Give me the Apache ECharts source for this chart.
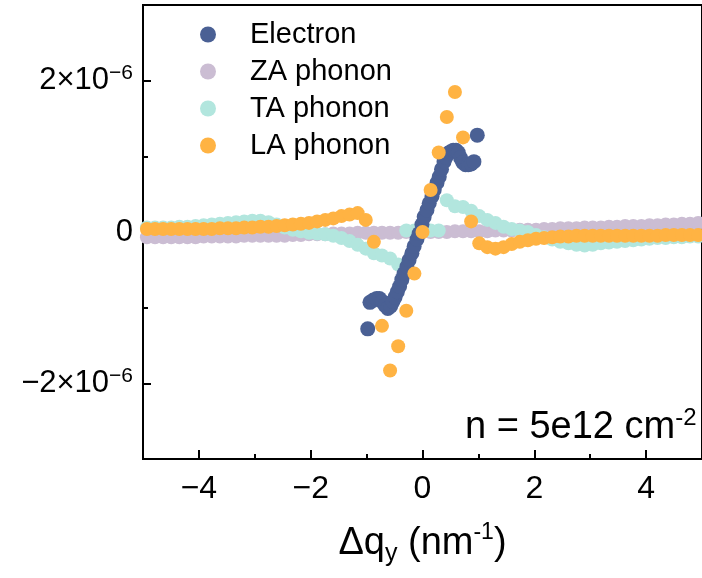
<!DOCTYPE html>
<html>
<head>
<meta charset="utf-8">
<script src="https://cdn.jsdelivr.net/npm/echarts@6/dist/echarts.min.js"></script>
<style>html,body{margin:0;padding:0;background:#fff}#c{width:702px;height:578px}</style>
</head>
<body>
<div id="c"></div>
<script>
// Phonon q grid (nm^-1)
const phononQ = [-4.93,-4.785,-4.64,-4.495,-4.35,-4.205,-4.06,-3.915,-3.77,-3.625,-3.48,-3.335,-3.19,-3.045,-2.9,-2.755,-2.61,-2.465,-2.32,-2.175,-2.03,-1.885,-1.74,-1.595,-1.45,-1.305,-1.16,-1.015,-0.87,-0.725,-0.58,-0.435,-0.29,-0.145,0,0.145,0.29,0.435,0.58,0.725,0.87,1.015,1.16,1.305,1.45,1.595,1.74,1.885,2.03,2.175,2.32,2.465,2.61,2.755,2.9,3.045,3.19,3.335,3.48,3.625,3.77,3.915,4.06,4.205,4.35,4.495,4.64,4.785,4.93];
// values in units of 1e-6
const zaValues = [-0.07,-0.07,-0.07,-0.07,-0.07,-0.07,-0.07,-0.06,-0.06,
  -0.06,-0.06,-0.06,-0.05,-0.05,-0.05,-0.05,-0.05,-0.05,
  -0.04,-0.04,-0.03,-0.03,-0.03,-0.02,-0.02,-0.02,-0.01,
  -0.01,-0.01,-0.01,-0.01,-0.01,0,0,
  0,
  0,0,0,0.01,0.01,0.01,0.01,
  0.01,0.02,0.02,0.02,0.03,0.03,0.03,0.04,0.04,
  0.05,0.05,0.05,0.06,0.06,0.06,0.07,0.07,0.08,
  0.08,0.08,0.09,0.09,0.10,0.10,0.11,0.11,0.12];
const taValues = [0.06,0.06,0.06,0.06,0.07,0.07,0.08,0.09,0.10,
  0.11,0.12,0.13,0.14,0.15,0.15,0.13,0.10,0.06,
  0.03,0.01,-0.01,-0.02,-0.03,-0.05,-0.08,-0.12,-0.17,
  -0.22,-0.28,-0.31,-0.35,-0.43,0.02,0.02,
  0.02,
  0.02,0.02,0.42,0.34,0.33,0.28,0.21,
  0.16,0.12,0.07,0.04,0.02,0.0,-0.04,-0.07,-0.10,
  -0.13,-0.15,-0.17,-0.18,-0.17,-0.15,-0.14,-0.13,-0.12,
  -0.11,-0.10,-0.09,-0.08,-0.08,-0.07,-0.07,-0.06,-0.06];
const laValues = [0.04,0.04,0.04,0.04,0.04,0.04,0.04,0.04,0.04,
  0.05,0.05,0.05,0.06,0.06,0.07,0.07,0.08,0.09,
  0.10,0.11,0.12,0.14,0.16,0.18,0.21,0.23,0.25,
  0.16,-0.13,-1.24,-1.83,-1.51,-1.04,-0.55,
  0.0,
  0.555,1.05,1.52,1.85,1.25,0.14,-0.15,
  -0.20,-0.22,-0.20,-0.16,-0.13,-0.11,-0.09,-0.08,-0.07,
  -0.06,-0.06,-0.05,-0.05,-0.05,-0.05,-0.05,-0.05,-0.05,
  -0.05,-0.05,-0.05,-0.05,-0.04,-0.04,-0.04,-0.04,-0.04];
// Electron points
const electronQ = [-0.98,-0.94,-0.88,-0.82,-0.77,-0.72,-0.67,-0.62,-0.57,-0.53,-0.49,-0.45,-0.41,-0.37,-0.33,-0.28,-0.24,-0.19,-0.15,-0.10,-0.06,-0.01,0.03,0.08,0.12,0.17,0.21,0.26,0.30,0.34,0.385,0.42,0.46,0.50,0.55,0.60,0.64,0.68,0.72,0.77,0.82,0.87,0.92,0.98];
const electronValues = [-1.28,-0.93,-0.90,-0.88,-0.88,-0.92,-0.97,-1.01,-0.98,-0.92,-0.86,-0.79,-0.72,-0.63,-0.55,-0.46,-0.37,-0.28,-0.19,-0.10,-0.02,0.10,0.20,0.29,0.38,0.47,0.56,0.65,0.73,0.83,0.93,0.99,1.04,1.06,1.08,1.08,1.05,0.98,0.92,0.89,0.89,0.90,0.93,1.28];

const xMajorTicks = [-4,-2,0,2,4];
const xMinorTicks = [-3,-1,1,3];
const yMajorTicks = [-2e-6,0,2e-6];
const yMinorTicks = [-1e-6,1e-6];
const seriesNames = ['Electron','ZA phonon','TA phonon','LA phonon'];
const colors = {'Electron':'#4A6094','ZA phonon':'#CBBDD3','TA phonon':'#B2E6DE','LA phonon':'#FFB343'};

const FONT = 'Liberation Sans';
const pair = (qs, vs) => qs.map((q,i)=>[q, vs[i]*1e-6]);

const chart = echarts.init(document.getElementById('c'), null, {renderer:'canvas'});
const axisLine = {show:true, onZero:false, lineStyle:{color:'#000', width:2}};
chart.setOption({
  animation:false,
  backgroundColor:'#fff',
  grid:{left:143, top:5, width:563, bottom:119, show:true, borderColor:'#000', borderWidth:2, backgroundColor:'transparent'},
  legend:{
    data:seriesNames, orient:'vertical', left:200, top:20, padding:0, itemGap:8,
    icon:'circle', itemWidth:16, itemHeight:16, selectedMode:false,
    textStyle:{fontFamily:FONT, fontSize:29, lineHeight:29, color:'#000', padding:[0,0,0,29]}
  },
  xAxis:[{
    type:'value', min:-5, max:5, position:'bottom',
    axisLine:axisLine,
    axisTick:{show:true, inside:true, length:9, customValues:xMajorTicks, lineStyle:{color:'#000', width:2}},
    axisLabel:{customValues:xMajorTicks, margin:14, fontFamily:FONT, fontSize:32, color:'#000',
      formatter:v=> v<0 ? '\u2212'+Math.abs(v) : String(v)},
    splitLine:{show:false},
    name:'{a|\u0394q}{s|y}{a| (nm}{p|-1}{a|)}', nameLocation:'middle', nameGap:62,
    nameTextStyle:{rich:{
      a:{fontFamily:FONT, fontSize:38, lineHeight:46, color:'#000'},
      s:{fontFamily:FONT, fontSize:25, lineHeight:25, verticalAlign:'bottom', color:'#000'},
      p:{fontFamily:FONT, fontSize:23, lineHeight:23, verticalAlign:'top', color:'#000'}
    }}
  },{
    type:'value', min:-5, max:5, position:'bottom',
    axisLine:{show:false, onZero:false},
    axisTick:{show:true, inside:true, length:5, customValues:xMinorTicks, lineStyle:{color:'#000', width:2}},
    axisLabel:{show:false}, splitLine:{show:false}
  }],
  yAxis:[{
    type:'value', min:-3e-6, max:3e-6, position:'left',
    axisLine:axisLine,
    axisTick:{show:true, inside:true, length:8, customValues:yMajorTicks, lineStyle:{color:'#000', width:2}},
    axisLabel:{customValues:yMajorTicks, margin:10,
      formatter:v=>{
        if (Math.abs(v) < 1e-12) return '{a|0}';
        return '{a|' + (v<0?'\u2212':'') + '2\u00d710}{b|\u22126}';
      },
      rich:{
        a:{fontFamily:FONT, fontSize:31, lineHeight:36, color:'#000'},
        b:{fontFamily:FONT, fontSize:21, lineHeight:21, verticalAlign:'top', color:'#000'}
      }},
    splitLine:{show:false}
  },{
    type:'value', min:-3e-6, max:3e-6, position:'left',
    axisLine:{show:false, onZero:false},
    axisTick:{show:true, inside:true, length:5, customValues:yMinorTicks, lineStyle:{color:'#000', width:2}},
    axisLabel:{show:false}, splitLine:{show:false}
  }],
  graphic:[{
    type:'text', left:465, top:406,
    style:{
      text:'{a|n = 5e12 cm}{b|-2}',
      rich:{
        a:{fontFamily:FONT, fontSize:38, lineHeight:44, fill:'#000'},
        b:{fontFamily:FONT, fontSize:24, lineHeight:24, verticalAlign:'top', fill:'#000'}
      }
    }
  }],
  series:[
    {name:'ZA phonon', type:'scatter', symbolSize:14, itemStyle:{color:colors['ZA phonon'], opacity:1}, data:pair(phononQ, zaValues)},
    {name:'TA phonon', type:'scatter', symbolSize:14, itemStyle:{color:colors['TA phonon'], opacity:1}, data:pair(phononQ, taValues)},
    {name:'Electron', type:'scatter', symbolSize:15, itemStyle:{color:colors['Electron'], opacity:1}, data:pair(electronQ, electronValues)},
    {name:'LA phonon', type:'scatter', symbolSize:14, itemStyle:{color:colors['LA phonon'], opacity:1}, data:pair(phononQ, laValues)}
  ]
});
</script>
</body>
</html>
